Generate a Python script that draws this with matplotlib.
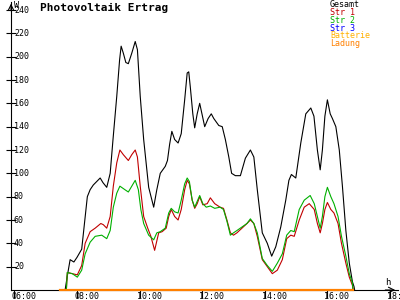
import numpy as np
import matplotlib
matplotlib.use("Agg")
import matplotlib.pyplot as plt

# hours of day / watts
gesamt_h = [7.62, 7.69, 7.78, 7.90, 8.00, 8.15, 8.25, 8.33, 8.42, 8.52, 8.74, 8.83, 8.95,
            9.06, 9.15, 9.27, 9.36, 9.41, 9.48, 9.56, 9.64, 9.75, 9.86, 9.93, 10.02, 10.13,
            10.29, 10.45, 10.55, 10.66, 10.82, 10.89, 10.96, 11.03, 11.12, 11.23, 11.33,
            11.44, 11.52, 11.57, 11.62, 11.70, 11.76, 11.84, 11.92, 12.00, 12.08, 12.19,
            12.29, 12.37, 12.53, 12.64, 12.74, 12.85, 12.94, 13.06, 13.22, 13.38, 13.54,
            13.65, 13.76, 13.92, 14.08, 14.22, 14.35, 14.51, 14.67, 14.77, 14.85, 14.99,
            15.15, 15.31, 15.47, 15.57, 15.68, 15.77, 15.84, 15.92, 16.00, 16.09, 16.16,
            16.27, 16.38, 16.48, 16.59, 16.70, 16.80, 16.85, 16.87]
gesamt_w = [0, 12, 26, 24, 28, 35, 60, 80, 86, 90, 96, 92, 88,
            100, 129, 166, 197, 209, 203, 195, 194, 203, 213, 206, 166, 129,
            88, 71, 86, 100, 106, 111, 125, 136, 129, 126, 134,
            163, 186, 187, 174, 151, 139, 151, 160, 150, 140, 147,
            151, 147, 141, 140, 129, 114, 100, 98, 98, 113, 120,
            114, 86, 49, 40, 29, 37, 54, 77, 94, 99, 96,
            126, 151, 156, 149, 120, 103, 120, 149, 163, 151, 147,
            140, 120, 89, 51, 23, 7, 3, 0]

str1_h = [7.66, 7.69, 7.85, 8.01, 8.15, 8.26, 8.42, 8.58, 8.76, 8.84, 8.95, 9.06, 9.16,
          9.27, 9.37, 9.48, 9.64, 9.75, 9.86, 9.93, 10.02, 10.13, 10.26, 10.36, 10.48,
          10.61, 10.72, 10.85, 10.93, 11.01, 11.12, 11.23, 11.33, 11.44, 11.52, 11.59,
          11.68, 11.76, 11.84, 11.92, 12.02, 12.16, 12.26, 12.40, 12.57, 12.68, 12.79,
          12.90, 13.00, 13.11, 13.27, 13.43, 13.54, 13.65, 13.76, 13.92, 14.08, 14.24,
          14.40, 14.56, 14.70, 14.83, 14.94, 15.10, 15.26, 15.42, 15.58, 15.68, 15.77,
          15.84, 15.92, 16.00, 16.11, 16.21, 16.34, 16.45, 16.59, 16.70, 16.80, 16.82]
str1_w = [0, 15, 14, 13, 21, 40, 50, 53, 57, 56, 53, 63, 89,
          109, 120, 116, 111, 116, 120, 114, 89, 63, 53, 46, 34,
          49, 50, 53, 63, 69, 63, 60, 69, 86, 94, 91,
          77, 70, 74, 80, 73, 74, 79, 74, 71, 70, 60,
          49, 47, 49, 53, 57, 60, 57, 46, 26, 20, 14,
          17, 26, 44, 47, 46, 60, 71, 74, 69, 57, 49,
          57, 69, 75, 69, 66, 57, 40, 23, 11, 4, 0]

str2_h = [7.66, 7.69, 7.85, 8.01, 8.15, 8.26, 8.42, 8.58, 8.79, 8.95, 9.06, 9.16, 9.27,
          9.37, 9.53, 9.64, 9.75, 9.86, 9.96, 10.04, 10.13, 10.29, 10.45, 10.55, 10.66,
          10.82, 10.93, 11.01, 11.12, 11.23, 11.33, 11.44, 11.52, 11.59, 11.68, 11.76,
          11.84, 11.92, 12.02, 12.13, 12.26, 12.40, 12.57, 12.68, 12.79, 12.90, 13.00,
          13.11, 13.27, 13.43, 13.54, 13.65, 13.76, 13.92, 14.08, 14.24, 14.40, 14.56,
          14.70, 14.83, 14.94, 15.10, 15.26, 15.45, 15.58, 15.68, 15.77, 15.84, 15.92,
          16.00, 16.11, 16.21, 16.34, 16.45, 16.59, 16.70, 16.80, 16.82]
str2_w = [0, 15, 14, 11, 17, 31, 41, 46, 47, 44, 51, 71, 83,
          89, 86, 84, 89, 94, 86, 69, 57, 47, 43, 49, 50,
          53, 66, 70, 67, 66, 77, 91, 96, 93, 77, 71,
          76, 81, 74, 71, 72, 70, 71, 69, 59, 47, 49,
          51, 54, 57, 61, 57, 49, 27, 21, 16, 23, 31,
          47, 51, 50, 69, 77, 81, 74, 63, 53, 63, 80,
          88, 80, 74, 63, 46, 29, 14, 6, 0]

ladung_h = [7.45, 16.82]
ladung_w = [0, 0]

legend_names = ["Gesamt", "Str 1", "Str 2", "Str 3", "Batterie", "Ladung"]
legend_colors = ["#000000", "#c00000", "#00b000", "#0000ff", "#ffb000", "#ff8000"]

x_ticks = [6, 8, 10, 12, 14, 16, 18]
x_labels = ["06:00", "08:00", "10:00", "12:00", "14:00", "16:00", "18:00"]
y_ticks = list(range(20, 241, 20))

plt.rcParams["font.family"] = "DejaVu Sans Mono"

fig = plt.figure(figsize=(4, 3), dpi=100)
ax = fig.add_axes([11 / 400, 10 / 300, 387 / 400, 288 / 300])
ax.set_xlim(5.891, 18.256)
ax.set_ylim(0, 246.86)

ax.plot(gesamt_h, gesamt_w, color=legend_colors[0], lw=0.8)
ax.plot(str1_h, str1_w, color=legend_colors[1], lw=0.8)
ax.plot(str2_h, str2_w, color=legend_colors[2], lw=0.8)
ax.plot(ladung_h, ladung_w, color=legend_colors[5], lw=1.6, clip_on=False, zorder=5)

for s in ["top", "right"]:
    ax.spines[s].set_visible(False)
ax.spines["left"].set_linewidth(0.8)
ax.spines["bottom"].set_linewidth(0.8)

ax.set_yticks(y_ticks)
ax.set_yticklabels([])
ax.tick_params(axis="y", direction="inout", length=7, width=0.8)
ax.set_xticks(x_ticks)
ax.set_xticklabels([])
ax.tick_params(axis="x", direction="out", length=6, width=0.8)

ytr = ax.get_yaxis_transform()
for v in y_ticks:
    ax.text(3 / 387, v, str(v), transform=ytr, fontsize=6, ha="left", va="center")
xtr = ax.get_xaxis_transform()
for v, lab in zip(x_ticks, x_labels):
    ax.text(v - 3 / 31.3, -2 / 288, lab, transform=xtr, fontsize=6,
            ha="left", va="top", clip_on=False)

# axis arrows and unit labels
ax.annotate("", xy=(1, 0), xytext=(0.96, 0), xycoords="axes fraction",
            arrowprops=dict(arrowstyle="->", lw=0.8, color="black"))
ax.annotate("", xy=(0, 1.004), xytext=(0, 0.96), xycoords="axes fraction",
            arrowprops=dict(arrowstyle="->", lw=0.8, color="black"))
fig.text(14 / 400, 1 - 1 / 300, "W", fontsize=6, ha="left", va="top")
fig.text(385 / 400, 1 - 285 / 300, "h", fontsize=6.5, ha="left", va="baseline")

fig.text(40 / 400, 1 - 10.7 / 300, "Photovoltaik Ertrag", fontsize=8,
         fontweight="bold", ha="left", va="baseline")

for i, (name, col) in enumerate(zip(legend_names, legend_colors)):
    fig.text(330 / 400, 1 - (7.3 + 7.75 * i) / 300, name, fontsize=6,
             color=col, ha="left", va="baseline")

fig.savefig("out.png", dpi=100, facecolor="white")
